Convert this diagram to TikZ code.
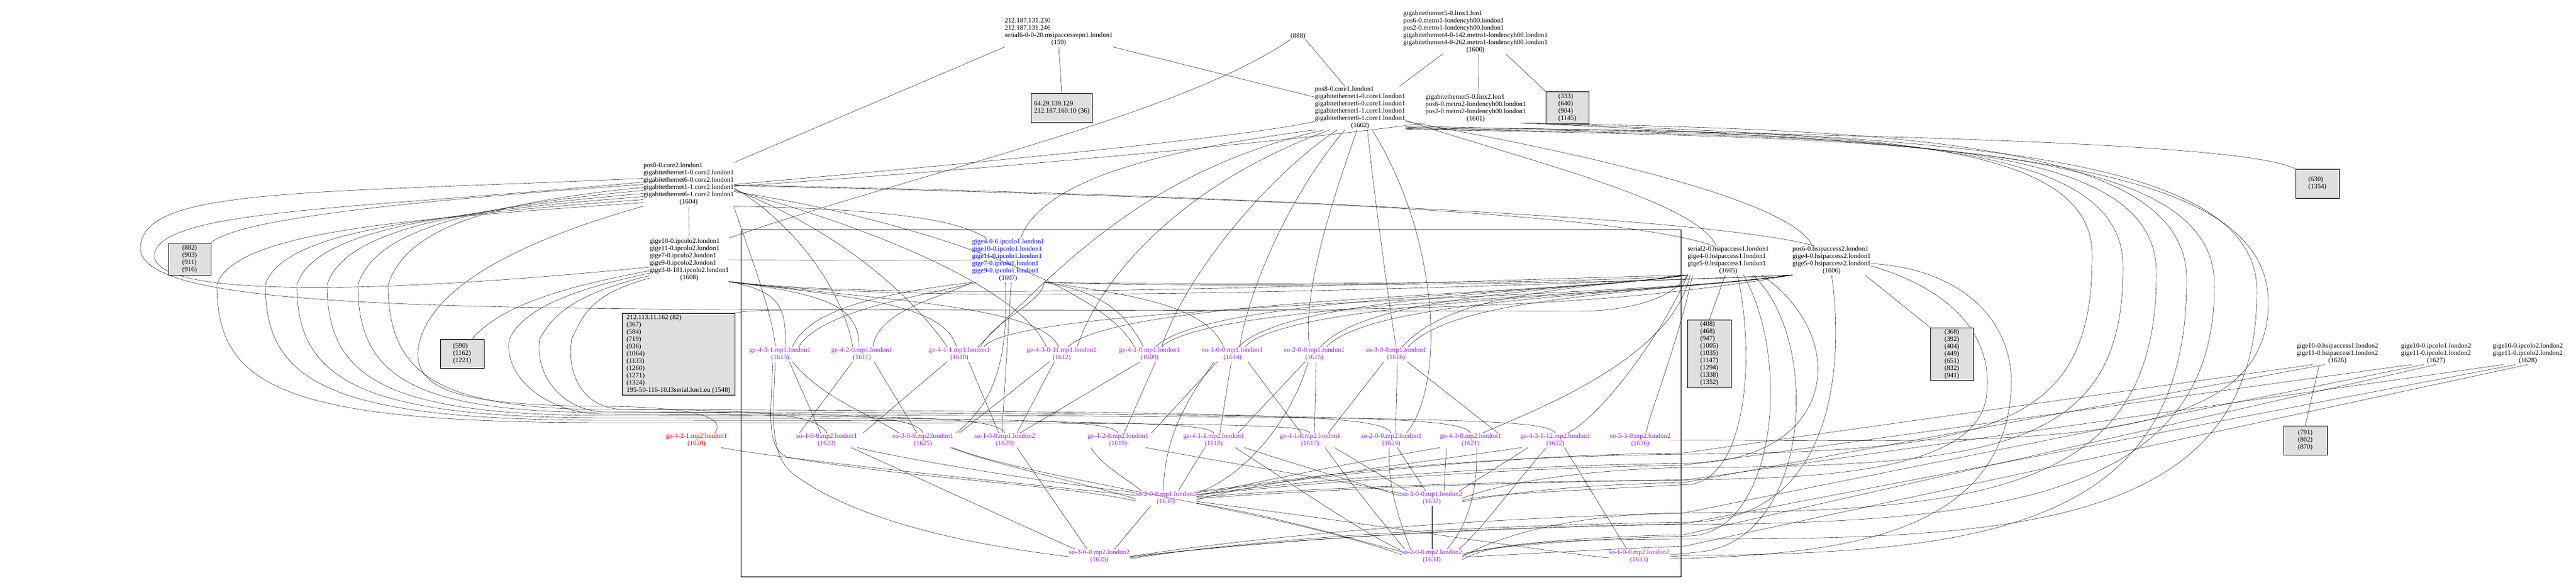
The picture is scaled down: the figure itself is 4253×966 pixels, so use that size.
\documentclass[tikz,border=0pt]{standalone}
\usepackage{fontspec}
\setmainfont{Liberation Serif}
\definecolor{gvpurple}{RGB}{160,32,240}
\definecolor{gvblue}{RGB}{0,0,255}
\definecolor{gvred}{RGB}{255,0,0}
\definecolor{gvgray}{RGB}{224,224,224}
\newcommand\gvf{\fontsize{11.2}{12}\selectfont}
\newcommand\lns[2]{\begin{tabular}{@{}l@{}}#1\\\multicolumn{1}{@{}c@{}}{#2}\end{tabular}}
\newcommand\mpn[2]{\begin{tabular}{@{}c@{}}#1\\#2\end{tabular}}
\pgfdeclarelayer{bg}
\pgfsetlayers{bg,main}
\begin{document}
\begin{tikzpicture}[x=1pt,y=-1pt,line width=1.2pt,
  lab/.style={font=\gvf,inner sep=0pt,outer sep=0pt},
  mp/.style={lab,text=gvpurple},
  box/.style={draw,fill=gvgray,font=\gvf,align=left,inner sep=0pt,outer sep=0pt,line width=0.9pt}]
\useasboundingbox (0,0) rectangle (4253,966);
\draw[line width=0.9pt] (1223,379) rectangle (2775,952);
% ---------- nodes ----------
\node[lab] (t159) at (1748,53.5) {\lns{212.187.131.230\\212.187.131.246\\serial6-0-0-20.msipaccessvpn1.london1}{(159)}};
\node[lab] (t888) at (2143,60) {(888)};
\node[lab] (t1600) at (2436,53) {\lns{gigabitethernet5-0.linx1.lon1\\pos6-0.metro1-londencyh00.london1\\pos2-0.metro1-londencyh00.london1\\gigabitethernet4-0-142.metro1-londencyh00.london1\\gigabitethernet4-0-262.metro1-londencyh00.london1}{(1600)}};
\node[box,minimum width=101,minimum height=48] (b36) at (1753,178) {64.29.139.129\\212.187.160.10 (36)};
\node[lab] (t1602) at (2245.5,178.5) {\lns{pos8-0.core1.london1\\gigabitethernet1-0.core1.london1\\gigabitethernet6-0.core1.london1\\gigabitethernet1-1.core1.london1\\gigabitethernet6-1.core1.london1}{(1602)}};
\node[lab] (t1601) at (2436.5,179) {\lns{gigabitethernet5-0.linx2.lon1\\pos6-0.metro2-londencyh00.london1\\pos2-0.metro2-londencyh00.london1}{(1601)}};
\node[box,minimum width=71,minimum height=53] (b333) at (2587.5,177.5) {(333)\\(640)\\(904)\\(1145)};
\node[lab] (t1604) at (1137,304.5) {\lns{pos8-0.core2.london1\\gigabitethernet1-0.core2.london1\\gigabitethernet6-0.core2.london1\\gigabitethernet1-1.core2.london1\\gigabitethernet6-1.core2.london1}{(1604)}};
\node[box,minimum width=72,minimum height=48] (b630) at (3826,303) {(630)\\(1354)};
\node[box,minimum width=70,minimum height=53] (b882) at (313,428) {(882)\\(903)\\(911)\\(916)};
\node[lab] (t1608) at (1138,429) {\lns{gige10-0.ipcolo2.london1\\gige11-0.ipcolo2.london1\\gige7-0.ipcolo2.london1\\gige9-0.ipcolo2.london1\\gige3-0-181.ipcolo2.london1}{(1608)}};
\node[lab,text=gvblue] (t1607) at (1664.5,430) {\lns{gige4-0-6.ipcolo1.london1\\gige10-0.ipcolo1.london1\\gige11-0.ipcolo1.london1\\gige7-0.ipcolo1.london1\\gige9-0.ipcolo1.london1}{(1607)}};
\node[lab] (t1605) at (2853.5,430) {\lns{serial2-0.hsipaccess1.london1\\gige4-0.hsipaccess1.london1\\gige5-0.hsipaccess1.london1}{(1605)}};
\node[lab] (t1606) at (3024,430) {\lns{pos6-0.hsipaccess2.london1\\gige4-0.hsipaccess2.london1\\gige5-0.hsipaccess2.london1}{(1606)}};
\node[box,minimum width=72,minimum height=48] (b590) at (763,584) {(590)\\(1162)\\(1221)};
\node[box,minimum width=186,minimum height=135] (b82) at (1120,584.5) {212.113.11.162 (82)\\(367)\\(584)\\(719)\\(936)\\(1064)\\(1133)\\(1260)\\(1271)\\(1324)\\195-50-116-10.l3serial.lon1.eu (1548)};
\node[mp] (m1613) at (1288,585) {\mpn{ge-4-3-1.mp1.london1}{(1613)}};
\node[mp] (m1611) at (1423,585) {\mpn{ge-4-2-0.mp1.london1}{(1611)}};
\node[mp] (m1610) at (1584,585) {\mpn{ge-4-1-1.mp1.london1}{(1610)}};
\node[mp] (m1612) at (1753,585) {\mpn{ge-4-3-0-11.mp1.london1}{(1612)}};
\node[mp] (m1609) at (1898,585) {\mpn{ge-4-1-0.mp1.london1}{(1609)}};
\node[mp] (m1614) at (2035,585) {\mpn{so-1-0-0.mp1.london1}{(1614)}};
\node[mp] (m1615) at (2170,585) {\mpn{so-2-0-0.mp1.london1}{(1615)}};
\node[mp] (m1616) at (2305,585) {\mpn{so-3-0-0.mp1.london1}{(1616)}};
\node[box,minimum width=72,minimum height=112] (b408) at (2822,584) {(408)\\(468)\\(947)\\(1005)\\(1035)\\(1147)\\(1294)\\(1338)\\(1352)};
\node[box,minimum width=71,minimum height=87] (b368) at (3222.5,584.5) {(368)\\(392)\\(404)\\(449)\\(651)\\(832)\\(941)};
\node[lab] (t1626) at (3859,584) {\lns{gige10-0.hsipaccess1.london2\\gige11-0.hsipaccess1.london2}{(1626)}};
\node[lab] (t1627) at (4022,584) {\lns{gige10-0.ipcolo1.london2\\gige11-0.ipcolo1.london2}{(1627)}};
\node[lab] (t1628) at (4173.5,584) {\lns{gige10-0.ipcolo2.london2\\gige11-0.ipcolo2.london2}{(1628)}};
\node[lab,text=gvred] (p1620) at (1150,727) {\mpn{ge-4-2-1.mp2.london1}{(1620)}};
\node[mp] (p1623) at (1365,727) {\mpn{so-1-0-0.mp2.london1}{(1623)}};
\node[mp] (p1625) at (1524,727) {\mpn{so-3-0-0.mp2.london1}{(1625)}};
\node[mp] (p1629) at (1659,727) {\mpn{so-1-0-0.mp1.london2}{(1629)}};
\node[mp] (p1619) at (1846,727) {\mpn{ge-4-2-0.mp2.london1}{(1619)}};
\node[mp] (p1618) at (2004,727) {\mpn{ge-4-1-1.mp2.london1}{(1618)}};
\node[mp] (p1617) at (2163,727) {\mpn{ge-4-1-0.mp2.london1}{(1617)}};
\node[mp] (p1624) at (2297,727) {\mpn{so-2-0-0.mp2.london1}{(1624)}};
\node[mp] (p1621) at (2428,727) {\mpn{ge-4-3-0.mp2.london1}{(1621)}};
\node[mp] (p1622) at (2568,727) {\mpn{ge-4-3-1-12.mp2.london1}{(1622)}};
\node[mp] (p1636) at (2708,727) {\mpn{so-5-3-0.mp2.london2}{(1636)}};
\node[box,minimum width=72,minimum height=48] (b791) at (3806,727) {(791)\\(802)\\(870)};
\node[mp] (g1630) at (1925,823) {\mpn{so-2-0-0.mp1.london2}{(1630)}};
\node[mp] (g1632) at (2364,823) {\mpn{so-3-0-0.mp1.london2}{(1632)}};
\node[mp] (h1635) at (1815,919) {\mpn{so-3-0-0.mp2.london2}{(1635)}};
\node[mp] (h1634) at (2364,919) {\mpn{so-2-0-0.mp2.london2}{(1634)}};
\node[mp] (h1633) at (2706,919) {\mpn{so-1-0-0.mp2.london2}{(1633)}};
% ---------- edges ----------
\begin{pgfonlayer}{bg}
% top
\draw (t159.south) -- (b36.north);
\draw (t159.south east) -- ([yshift=-18]t1602.north west);
\draw (t159.south west) -- (t1604.north east);
\draw (t888.south east) -- ([xshift=-25]t1602.north);
\draw (t888.south west) .. controls (1950,190) and (1500,290) .. (t1608.north east);
\draw ([xshift=-54]t1600.south) -- ([xshift=65]t1602.north);
\draw ([xshift=5]t1600.south) -- ([xshift=5]t1601.north);
\draw ([xshift=50]t1600.south) -- (b333.north west);
% core2
\draw (t1604.east) .. controls (1700,262) and (2080,222) .. ([yshift=-22]t1602.west);
\draw ([yshift=-3]t1604.east) .. controls (1800,268) and (2250,218) .. (t1601.south west);
\draw ([yshift=-1]t1604.east) .. controls (1800,318) and (2650,342) .. ([xshift=-25]t1605.north);
\draw ([yshift=-2]t1604.east) .. controls (1900,322) and (2800,352) .. ([xshift=-28]t1606.north);
\draw (t1604.south east) .. controls (1450,345) and (1580,360) .. ([xshift=-35]t1607.north);
\draw (t1604.south) -- (t1608.north);
\draw (t1604.west) .. controls (700,330) and (390,360) .. (b882.north east);
\draw ([yshift=4]t1604.west) .. controls (600,345) and (265,345) .. (255,420) .. controls (248,490) and (600,488) .. ([yshift=-12]t1608.west);
\draw ([yshift=10]t1604.west) .. controls (500,320) and (232,310) .. (232,410) .. controls (232,495) and (600,508) .. (1200,511) -- (2600,514) .. controls (2720,514) and (2770,480) .. (t1605.south west);
\draw ([yshift=-30]t1604.west) .. controls (700,360) and (388,379) .. (358,470) .. controls (358,640) and (470,698) .. (1000,698) .. controls (2040,698) and (2150,700) .. (p1617.north);
\draw ([yshift=-25]t1604.west) .. controls (720,355) and (468,379) .. (438,470) .. controls (438,630) and (540,694) .. (1000,694) .. controls (1880,694) and (1990,698) .. (p1618.north);
\draw ([yshift=-20]t1604.west) .. controls (740,350) and (520,379) .. (490,470) .. controls (490,625) and (590,690) .. (1000,690) .. controls (1720,690) and (1832,694) .. (p1619.north);
\draw ([yshift=-15]t1604.west) .. controls (760,345) and (570,379) .. (540,470) .. controls (540,620) and (630,686) .. (1000,686) .. controls (1540,686) and (1645,690) .. (p1629.north);
\draw ([yshift=-10]t1604.west) .. controls (780,340) and (620,379) .. (591,470) .. controls (591,615) and (670,681) .. (1000,681) .. controls (1400,681) and (1510,686) .. (p1625.north);
\draw ([yshift=-5]t1604.west) .. controls (800,335) and (670,379) .. (641,470) .. controls (641,610) and (710,676) .. (1000,676) .. controls (1240,676) and (1350,682) .. (p1623.north);
\draw (t1604.south west) .. controls (850,400) and (700,480) .. (690,580) .. controls (685,650) and (780,670) .. (1000,671) .. controls (1150,672) and (1200,690) .. ([xshift=30]p1620.north);
\draw (t1604.south east) .. controls (1230,400) and (1275,510) .. ([xshift=-8]m1613.north);
\draw ([yshift=-6]t1604.east) .. controls (1300,360) and (1390,470) .. ([xshift=-15]m1611.north);
\draw ([yshift=-8]t1604.east) .. controls (1380,380) and (1500,480) .. ([xshift=-20]m1610.north);
\draw ([yshift=-10]t1604.east) .. controls (1420,370) and (1680,470) .. ([xshift=-25]m1612.north);
\draw ([yshift=-12]t1604.east) .. controls (1500,360) and (1820,470) .. ([xshift=-25]m1609.north);
% ipcolo2
\draw ([yshift=-22]t1608.west) .. controls (960,475) and (866,505) .. (841,560) .. controls (830,620) and (900,684) .. (1000,684) .. controls (2440,688) and (2550,692) .. (p1622.north);
\draw ([yshift=-26]t1608.west) .. controls (970,480) and (916,510) .. (891,560) .. controls (882,620) and (930,680) .. (1000,680) .. controls (2300,684) and (2410,690) .. (p1621.north);
\draw ([yshift=-30]t1608.west) .. controls (980,485) and (964,515) .. (944,560) .. controls (935,615) and (960,675) .. (1030,676) .. controls (2170,680) and (2280,688) .. (p1624.north);
\draw ([yshift=-18]t1608.west) .. controls (950,470) and (830,500) .. ([xshift=-20]b590.north east);
\draw (t1608.east) -- (t1607.west);
\draw (t1608.south east) .. controls (1280,480) and (1300,500) .. ([xshift=8]m1613.north);
\draw (t1608.south east) .. controls (1350,485) and (1420,500) .. ([xshift=-5]m1611.north);
\draw (t1608.south east) .. controls (1400,490) and (1560,500) .. ([xshift=-5]m1610.north);
\draw (t1608.south east) .. controls (1450,495) and (1720,505) .. ([xshift=-5]m1612.north);
\draw (t1608.south east) .. controls (1500,500) and (2200,470) .. (t1605.south west);
\draw (t1608.south east) .. controls (1500,505) and (2300,480) .. (t1606.south west);
% core1
\draw (t1602.south west) .. controls (1900,250) and (1720,300) .. ([xshift=20]t1607.north);
\draw ([xshift=-60]t1602.south) .. controls (1900,280) and (1760,430) .. ([xshift=30]m1610.north);
\draw ([xshift=-50]t1602.south) .. controls (1960,300) and (1820,450) .. ([xshift=25]m1612.north);
\draw ([xshift=-38]t1602.south) .. controls (2080,300) and (1950,470) .. ([xshift=20]m1609.north);
\draw ([xshift=-25]t1602.south) .. controls (2130,320) and (2060,480) .. ([xshift=12]m1614.north);
\draw ([xshift=-5]t1602.south) .. controls (2200,330) and (2150,480) .. ([xshift=-8]m1615.north);
\draw ([xshift=12]t1602.south) .. controls (2270,330) and (2290,480) .. (m1616.north);
\draw ([xshift=20]t1602.south) .. controls (2380,400) and (2385,640) .. ([xshift=25]p1624.north);
\draw ([yshift=-20]t1602.east) .. controls (2500,260) and (2800,330) .. ([xshift=-20]t1605.north);
\draw ([yshift=-22]t1602.east) .. controls (2600,250) and (2960,330) .. ([xshift=-32]t1606.north);
\draw ([yshift=-30]t1602.east) .. controls (3000,222) and (3700,232) .. (b630.north west);
\draw ([yshift=-32]t1602.east) .. controls (3000,218) and (3454,212) .. (3454,420) .. controls (3456,700) and (3300,747) .. (2780,750) .. controls (2300,756) and (2100,800) .. ([yshift=12]g1630.east);
\draw ([yshift=-33]t1602.east) .. controls (3050,222) and (3505,218) .. (3505,440) .. controls (3507,740) and (3300,770) .. (2780,772) .. controls (2600,776) and (2470,800) .. (g1632.east);
\draw ([yshift=-34]t1602.east) .. controls (3100,226) and (3560,224) .. (3560,450) .. controls (3562,800) and (3300,845) .. (2780,847) .. controls (2550,850) and (2450,900) .. (h1634.east);
\draw ([yshift=-35]t1602.east) .. controls (3150,228) and (3656,236) .. (3656,470) .. controls (3658,820) and (3300,864) .. (2780,866) .. controls (2300,872) and (2000,905) .. (h1635.east);
\draw ([xshift=-10]t1601.south east) .. controls (3100,215) and (3610,228) .. (3610,460) .. controls (3612,860) and (3300,915) .. (2790,917) -- (h1633.east);
\draw (t1601.south east) .. controls (3200,230) and (3726,248) .. (3726,480) .. controls (3728,880) and (3300,890) .. (2780,890) .. controls (2500,890) and (2450,905) .. ([yshift=-5]h1634.east);
\draw ([xshift=-5]t1601.south east) .. controls (3250,240) and (3745,262) .. (3745,500) .. controls (3745,760) and (3300,725) .. (p1636.east);
% hsipaccess
\draw ([xshift=-5]t1605.south) -- (b408.north);
\draw ([xshift=55]t1606.south) -- (b368.north west);
\draw ([xshift=15]t1605.south) .. controls (2900,600) and (2880,790) .. (2790,800) .. controls (2600,810) and (2450,815) .. ([yshift=-4]g1632.east);
\draw ([xshift=25]t1605.south) .. controls (2960,600) and (2930,880) .. (2790,885) .. controls (2600,890) and (2440,905) .. ([yshift=4]h1634.east);
\draw ([xshift=40]t1605.south) .. controls (3010,560) and (2990,900) .. (2800,912) .. controls (2780,914) and (2770,916) .. ([yshift=4]h1633.east);
\draw ([xshift=55]t1605.south) .. controls (3060,560) and (3030,760) .. (2790,765) .. controls (2400,770) and (2100,800) .. ([yshift=6]g1630.east);
\draw (t1606.south) .. controls (3045,600) and (3030,860) .. (2790,862) .. controls (2300,870) and (2000,900) .. ([yshift=-4]h1635.east);
\draw ([yshift=-5]t1606.east) .. controls (3250,445) and (3330,540) .. (3320,650) .. controls (3300,900) and (3000,915) .. ([yshift=-4]h1633.east);
\draw ([yshift=-9]t1606.east) .. controls (3230,480) and (3290,560) .. (3280,650) .. controls (3270,780) and (3000,790) .. (2790,792) .. controls (2300,800) and (2100,815) .. (g1630.east);
\draw (t1605.south west) .. controls (2600,478) and (2395,482) .. ([xshift=10]m1616.north);
\draw (t1605.south west) .. controls (2600,480) and (2260,484) .. ([xshift=10]m1615.north);
\draw (t1605.south west) .. controls (2600,482) and (2125,486) .. ([xshift=10]m1614.north);
\draw (t1605.south west) .. controls (2600,484) and (1990,488) .. ([xshift=10]m1609.north);
\draw (t1605.south west) .. controls (2600,486) and (1845,490) .. ([xshift=10]m1612.north);
\draw (t1606.south west) .. controls (2700,486) and (2400,490) .. ([xshift=20]m1616.north);
\draw (t1606.south west) .. controls (2700,488) and (2265,492) .. ([xshift=20]m1615.north);
\draw (t1606.south west) .. controls (2700,490) and (2130,494) .. ([xshift=20]m1614.north);
\draw (t1606.south west) .. controls (2700,492) and (1995,496) .. ([xshift=20]m1609.north);
\draw (t1606.south west) .. controls (2700,494) and (1680,498) .. ([xshift=40]m1610.north);
\draw (t1606.south west) .. controls (2700,500) and (2400,512) .. (2000,512) -- (1300,512) .. controls (1250,512) and (1225,514) .. (b82.north east);
\draw (t1605.south west) .. controls (2740,560) and (2640,690) .. ([xshift=20]p1622.north);
\draw ([xshift=8]t1605.south west) .. controls (2770,570) and (2720,690) .. ([xshift=10]p1636.north);
\draw ([xshift=4]t1605.south west) .. controls (2760,600) and (2500,690) .. ([xshift=20]p1621.north);
% ipcolo1
\draw (t1607.south west) .. controls (1500,480) and (1340,500) .. ([xshift=20]m1613.north);
\draw ([xshift=8]t1607.south west) .. controls (1520,490) and (1360,510) .. ([xshift=30]m1613.north);
\draw (t1607.south west) .. controls (1560,490) and (1450,510) .. ([xshift=18]m1611.north);
\draw (t1607.south east) .. controls (1720,500) and (1640,530) .. ([xshift=35]m1610.north);
\draw ([xshift=5]t1607.south) -- ([xshift=-5]p1629.north);
\draw ([xshift=-5]t1607.south) .. controls (1668,630) and (1620,680) .. ([xshift=55]p1625.north);
\draw (t1607.south east) .. controls (1900,475) and (2700,470) .. (t1606.south west);
\draw (t1607.south east) .. controls (1850,470) and (2650,470) .. (t1605.south west);
\draw (t1607.south east) .. controls (1800,480) and (1850,500) .. ([xshift=-10]m1609.north);
\draw (t1607.south east) .. controls (1850,485) and (1990,500) .. ([xshift=-15]m1614.north);
% mp1 -> mp2
\draw ([xshift=15]m1613.south) -- ([xshift=-10]p1623.north);
\draw ([xshift=20]m1613.south) .. controls (1360,660) and (1440,685) .. ([xshift=-40]p1625.north);
\draw ([xshift=-8]m1613.south) .. controls (1275,700) and (1270,760) .. (1320,790) .. controls (1420,860) and (1600,900) .. (h1635.west);
\draw ([xshift=-12]m1613.south) .. controls (1272,690) and (1265,740) .. (1300,755) .. controls (1500,790) and (1750,800) .. ([yshift=-4]g1630.west);
\draw ([xshift=-15]m1611.south) -- ([xshift=-45]p1623.north);
\draw ([xshift=20]m1611.south) -- ([xshift=-10]p1625.north);
\draw ([xshift=-20]m1610.south) -- ([xshift=60]p1623.north);
\draw ([xshift=15]m1610.south) -- ([xshift=-10]p1629.north);
\draw ([xshift=-20]m1612.south) -- ([xshift=60]p1625.north);
\draw ([xshift=-12]m1612.south) -- ([xshift=20]p1629.north);
\draw ([xshift=-15]m1609.south) -- ([xshift=25]p1629.north);
\draw ([xshift=10]m1609.south) -- ([xshift=10]p1619.north);
\draw ([xshift=-25]m1614.south) -- ([xshift=55]p1619.north);
\draw ([xshift=-2]m1614.south) -- ([xshift=10]p1618.north);
\draw ([xshift=25]m1614.south) -- ([xshift=-15]p1617.north);
\draw ([xshift=-30]m1614.south) .. controls (1960,660) and (1922,720) .. ([xshift=-4]g1630.north);
\draw ([xshift=-15]m1615.south) -- ([xshift=40]p1618.north);
\draw ([xshift=3]m1615.south) -- ([xshift=7]p1617.north);
\draw ([xshift=-10]m1615.south) .. controls (2130,700) and (2050,790) .. ([yshift=9]g1630.east);
\draw ([xshift=-20]m1616.south) -- ([xshift=30]p1617.north);
\draw ([xshift=2]m1616.south) -- ([xshift=7]p1624.north);
\draw ([xshift=18]m1616.south) -- ([xshift=45]p1621.north);
% mp2 -> lower
\draw ([xshift=40]p1620.south) .. controls (1300,760) and (1700,800) .. ([yshift=5]g1630.west);
\draw ([xshift=40]p1623.south) -- ([xshift=-40]h1635.north);
\draw ([xshift=50]p1623.south) .. controls (1500,760) and (1750,800) .. ([yshift=10]g1630.west);
\draw ([xshift=45]p1625.south) .. controls (1650,770) and (1800,800) .. ([yshift=-1]g1630.west);
\draw ([xshift=48]p1625.south) .. controls (1700,790) and (2100,840) .. ([yshift=3]h1634.west);
\draw ([xshift=20]p1629.south) -- ([xshift=-20]h1635.north);
\draw ([xshift=-45]p1619.south) .. controls (1820,770) and (1860,790) .. ([xshift=-40]g1630.north);
\draw ([xshift=45]p1619.south) .. controls (2000,760) and (2250,800) .. ([yshift=8]g1632.west);
\draw ([xshift=-15]p1618.south) -- ([xshift=20]g1630.north);
\draw ([xshift=50]p1618.south) .. controls (2150,770) and (2250,800) .. ([yshift=4]g1632.west);
\draw ([xshift=35]p1618.south) .. controls (2150,810) and (2250,880) .. ([yshift=10]h1634.west);
\draw ([xshift=40]p1617.south) -- ([xshift=-40]g1632.north);
\draw ([xshift=25]p1617.south) .. controls (2230,800) and (2290,870) .. ([xshift=-45]h1634.north);
\draw ([xshift=10]p1624.south) -- ([xshift=-10]g1632.north);
\draw ([xshift=-3]p1624.south) .. controls (2290,800) and (2310,860) .. ([xshift=-35]h1634.north);
\draw ([xshift=-40]p1621.south) -- ([xshift=20]g1632.north);
\draw ([xshift=10]p1621.south) .. controls (2440,820) and (2420,870) .. ([xshift=25]h1634.north);
\draw ([xshift=-50]p1621.south) .. controls (2200,770) and (2050,800) .. ([yshift=3]g1630.east);
\draw ([xshift=-45]p1622.south) -- ([xshift=45]g1632.north);
\draw ([xshift=-15]p1622.south) .. controls (2500,800) and (2450,870) .. ([xshift=45]h1634.north);
\draw ([xshift=15]p1622.south) -- ([xshift=-20]h1633.north);
\draw ([xshift=-55]p1622.south) .. controls (2300,770) and (2050,800) .. ([yshift=-3]g1630.east);
\draw ([xshift=-25]g1630.south) -- ([xshift=25]h1635.north);
\draw ([yshift=-8]g1630.east) .. controls (2100,850) and (2250,895) .. ([yshift=8]h1634.west);
\draw ([yshift=-5]g1630.east) .. controls (2300,870) and (2550,911) .. ([yshift=-2]h1633.west);
\draw (g1632.south) -- (h1634.north);
% london2
\draw ([xshift=-40]t1626.south) .. controls (3473,651) and (3126,699) .. (2780,748) .. controls (2400,752) and (2100,800) .. ([yshift=10]g1630.east);
\draw ([xshift=-40]t1627.south) .. controls (3581,657) and (3181,713) .. (2780,768) .. controls (2400,775) and (2100,805) .. ([yshift=6]g1630.east);
\draw ([xshift=-40]t1628.south) .. controls (3682,666) and (3231,729) .. (2780,793) .. controls (2400,795) and (2100,810) .. ([yshift=2]g1630.east);
\draw ([xshift=-20]t1626.south) .. controls (3486,667) and (3133,732) .. (2780,797) .. controls (2600,800) and (2480,815) .. ([yshift=-6]g1632.east);
\draw ([xshift=-20]t1627.south) .. controls (3595,684) and (3187,765) .. (2780,847) .. controls (2300,860) and (2000,898) .. (h1635.east);
\draw ([xshift=-20]t1628.south) .. controls (3695,690) and (3238,777) .. (2780,865) .. controls (2300,875) and (2000,902) .. ([yshift=-2]h1635.east);
\draw (t1627.south) .. controls (3608,696) and (3194,789) .. (2780,883) .. controls (2550,888) and (2450,905) .. ([yshift=2]h1634.east);
\draw (t1628.south) .. controls (3709,702) and (3244,802) .. (2780,902) .. controls (2700,905) and (2600,910) .. ([yshift=-1]h1634.east);
\draw ([xshift=-30]t1626.south) -- (b791.north);
\end{pgfonlayer}
\end{tikzpicture}
\end{document}
